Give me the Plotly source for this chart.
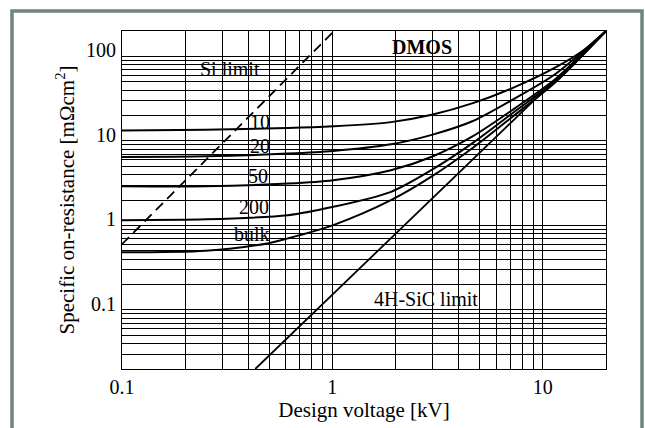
import math
import plotly.graph_objects as go

# ---- data ----
si_limit_x = [0.1, 1.02]
si_limit_y = [0.6, 200]

sic_limit_x = [0.43, 20]
sic_limit_y = [0.02, 200]

curve_names = ["10", "20", "50", "200", "bulk"]
curve_x = {
    "10":   [0.1, 0.25, 0.615, 1.01, 1.9, 2.97, 4.66, 7.31, 11.5, 15.7, 20],
    "20":   [0.1, 0.25, 0.615, 1.01, 1.9, 2.97, 4.66, 7.31, 11.5, 20],
    "50":   [0.1, 0.25, 0.615, 1.01, 1.9, 2.97, 4.66, 7.31, 11.5, 20],
    "200":  [0.1, 0.25, 0.615, 1.01, 1.9, 2.97, 4.66, 7.31, 11.5, 20],
    "bulk": [0.1, 0.25, 0.49, 0.615, 1.01, 1.9, 2.97, 4.66, 7.31, 11.5, 20],
}
curve_y = {
    "10":   [13.3, 13.6, 14.2, 14.9, 16.7, 20.4, 28.0, 43.0, 74.0, 119, 200],
    "20":   [6.46, 6.58, 7.08, 7.6, 9.12, 11.8, 17.2, 31.5, 62.0, 200],
    "50":   [2.91, 2.91, 3.13, 3.43, 4.5, 6.5, 11.4, 24.0, 54.0, 200],
    "200":  [1.155, 1.18, 1.32, 1.66, 2.5, 4.55, 9.5, 22.0, 51.5, 200],
    "bulk": [0.48, 0.501, 0.613, 0.703, 1.01, 1.99, 3.8, 8.3, 20.0, 49.5, 200],
}
label_x = {"10": 0.454, "20": 0.454, "50": 0.441, "200": 0.423, "bulk": 0.417}
label_y = {"10": 16.7, "20": 8.7, "50": 3.82, "200": 1.66, "bulk": 0.79}

text_labels = ["Si limit", "4H-SiC limit", "<b>DMOS</b>"]
text_x = [0.327, 2.8, 2.66]
text_y = [71.4, 0.134, 131]

x_tickvals = [0.1, 0.2, 0.3, 0.4, 0.5, 0.6, 0.7, 0.8, 0.9,
              1, 2, 3, 4, 5, 6, 7, 8, 9, 10, 20]
x_ticktext = ["0.1", "", "", "", "", "", "", "", "",
              "1", "", "", "", "", "", "", "", "", "10", ""]
y_tickvals = [0.02, 0.03, 0.04, 0.05, 0.06, 0.07, 0.08, 0.09,
              0.1, 0.2, 0.3, 0.4, 0.5, 0.6, 0.7, 0.8, 0.9,
              1, 2, 3, 4, 5, 6, 7, 8, 9,
              10, 20, 30, 40, 50, 60, 70, 80, 90, 100, 200]
y_ticktext = ["", "", "", "", "", "", "", "",
              "0.1", "", "", "", "", "", "", "", "",
              "1", "", "", "", "", "", "", "", "",
              "10", "", "", "", "", "", "", "", "", "100", ""]

FONT = "Liberation Serif, Times New Roman, serif"

fig = go.Figure()

fig.add_trace(go.Scatter(x=si_limit_x, y=si_limit_y, mode="lines",
                         line=dict(color="black", width=1.8, dash="10px,6px"),
                         showlegend=False, hoverinfo="skip"))
fig.add_trace(go.Scatter(x=sic_limit_x, y=sic_limit_y, mode="lines",
                         line=dict(color="black", width=1.8),
                         showlegend=False, hoverinfo="skip"))
for name in curve_names:
    fig.add_trace(go.Scatter(x=curve_x[name], y=curve_y[name], mode="lines",
                             line=dict(color="black", width=2, shape="spline", smoothing=0.8),
                             showlegend=False, hoverinfo="skip"))

annos = []
for name in curve_names:
    annos.append((label_x[name], label_y[name], name))
for tx, ty, tt in zip(text_x, text_y, text_labels):
    annos.append((tx, ty, tt))
for ax_, ay_, at_ in annos:
    fig.add_annotation(x=math.log10(ax_), y=math.log10(ay_), text=at_, showarrow=False,
                       xref="x", yref="y", xanchor="center", yanchor="middle",
                       font=dict(family=FONT, size=20, color="black"))

# grey outer frame (extends past the bottom edge)
fig.add_shape(type="rect", xref="paper", yref="paper",
              x0=-0.2273, x1=1.0744, y0=-0.4, y1=1.059,
              line=dict(color="#6e8580", width=3.5), fillcolor="rgba(0,0,0,0)",
              layer="above")

fig.update_xaxes(type="log", range=[-1, 1.30103],
                 tickmode="array", tickvals=x_tickvals, ticktext=x_ticktext,
                 showgrid=True, gridcolor="black", gridwidth=1,
                 showline=True, linecolor="black", linewidth=1, mirror=True,
                 ticks="", zeroline=False,
                 tickfont=dict(family=FONT, size=20, color="black"),
                 title=dict(text="Design voltage [kV]", standoff=2,
                            font=dict(family=FONT, size=21, color="black")))
fig.update_yaxes(type="log", range=[-1.69897, 2.30103],
                 tickmode="array", tickvals=y_tickvals, ticktext=y_ticktext,
                 showgrid=True, gridcolor="black", gridwidth=1,
                 showline=True, linecolor="black", linewidth=1, mirror=True,
                 ticks="", zeroline=False, ticklabelshift=-6, ticklabelstandoff=1,
                 tickfont=dict(family=FONT, size=20, color="black"),
                 title=dict(text="Specific on-resistance [mΩcm<sup>2</sup>]", standoff=5,
                            font=dict(family=FONT, size=21, color="black")))

fig.update_layout(width=645, height=428,
                  margin=dict(l=122, r=39, t=31, b=59),
                  paper_bgcolor="white", plot_bgcolor="white",
                  font=dict(family=FONT, color="black"))

fig.write_html("out.html")
